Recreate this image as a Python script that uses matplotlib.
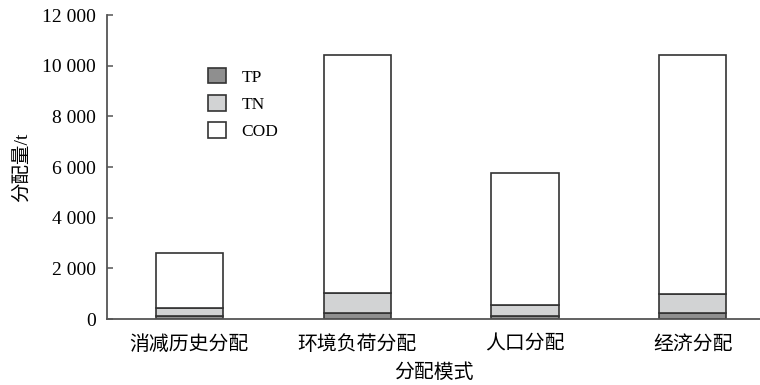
import matplotlib
matplotlib.use("Agg")
import matplotlib.pyplot as plt
import numpy as np
from matplotlib.ticker import FuncFormatter

plt.rcParams['font.family'] = ['Liberation Serif', 'Noto Sans CJK SC']

categories = ['消减历史分配', '环境负荷分配', '人口分配', '经济分配']
tp = [120, 220, 120, 220]
tn = [330, 790, 450, 780]
cod = [2170, 9410, 5200, 9420]
series_names = ['TP', 'TN', 'COD']
yticks = [0, 2000, 4000, 6000, 8000, 10000, 12000]

fig = plt.figure(figsize=(7.6, 3.85), dpi=100)
ax = fig.add_axes([107/760, 1-319/385, 1-107/760, 304/385])

x = np.arange(len(categories))
w = 0.4
edge = '#333333'
tp_a = np.array(tp); tn_a = np.array(tn); cod_a = np.array(cod)
ax.bar(x, tp_a, w, color='#8f8f8f', edgecolor=edge, linewidth=1.2, label=series_names[0])
ax.bar(x, tn_a, w, bottom=tp_a, color='#d2d3d4', edgecolor=edge, linewidth=1.2, label=series_names[1])
ax.bar(x, cod_a, w, bottom=tp_a+tn_a, color='white', edgecolor=edge, linewidth=1.2, label=series_names[2])

ax.set_xlim(-0.49, 3.4)
ax.set_ylim(0, 12000)
ax.set_yticks(yticks)
ax.yaxis.set_major_formatter(FuncFormatter(lambda v, p: f"{int(v):,}".replace(',', ' ')))
ax.set_xticks(x)
ax.set_xticklabels(categories, fontsize=14.3)
ax.tick_params(axis='x', length=0, pad=12)
ax.tick_params(axis='y', direction='in', length=4, width=1.1, color='#555555', labelsize=14, pad=8)
for s in ['top', 'right']:
    ax.spines[s].set_visible(False)
for s in ['left', 'bottom']:
    ax.spines[s].set_color('#555555')
    ax.spines[s].set_linewidth(1.3)

ax.set_ylabel('分配量/t', fontsize=14, labelpad=8)
ax.set_xlabel('分配模式', fontsize=14.3, labelpad=7)

leg = ax.legend(loc='upper left', bbox_to_anchor=(0.155, 0.826), frameon=False, fontsize=12.5,
                handlelength=1.0, handleheight=1.0, labelspacing=0.55, handletextpad=0.9,
                borderpad=0, borderaxespad=0)

fig.savefig('out.png', dpi=100)
